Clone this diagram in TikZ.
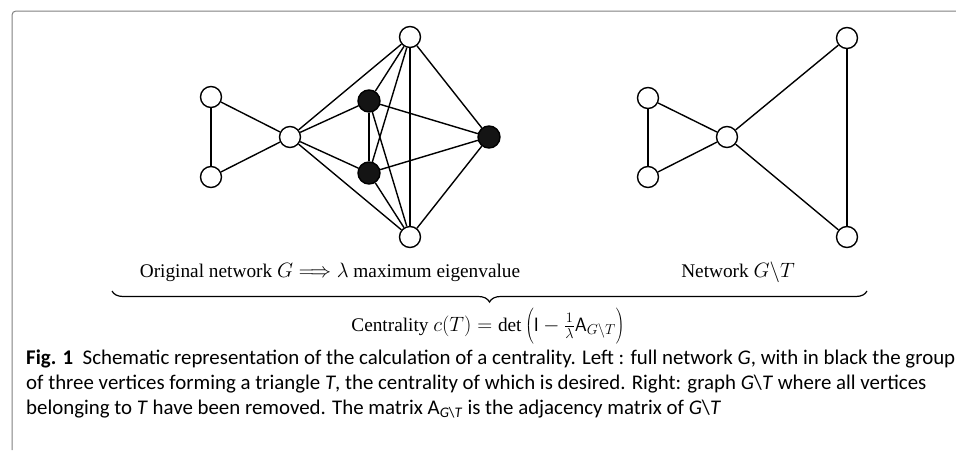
\documentclass[tikz,border=0pt]{standalone}
\usepackage{fontspec}
\setmainfont{Liberation Serif}
\newfontfamily\capfont{Carlito}
\usetikzlibrary{decorations.pathreplacing}
\newsavebox\capbox
\newsavebox\lblbox
\newcommand\capA{\textbf{Fig. 1}\ \ Schematic representation of the calculation of a centrality. Left : full network \textit{G}, with in black the group}
\newcommand\capB{of three vertices forming a triangle \textit{T}, the centrality of which is desired. Right: graph \textit{G}\textbackslash\textit{T} where all vertices}
\newcommand\capC{belonging to \textit{T} have been removed. The matrix A\textsubscript{\textit{G}\textbackslash\textit{T}} is the adjacency matrix of \textit{G}\textbackslash\textit{T}}
\newcommand\origtext{Original network $G \Longrightarrow \lambda$ maximum eigenvalue}
\AtBeginDocument{%
  \sbox\capbox{\capfont\fontsize{10}{12}\selectfont\capA}%
  \sbox\lblbox{\fontsize{10}{12}\selectfont\origtext}%
  \pgfmathsetmacro\capsz{10*929/\the\wd\capbox}%
  \pgfmathsetmacro\lblsz{10*377/\the\wd\lblbox}%
  \xdef\capsz{\capsz}\xdef\lblsz{\lblsz}}
\begin{document}
\begin{tikzpicture}[x=1pt,y=-1pt,
  wv/.style={circle,draw,fill=white,line width=1.4pt,minimum size=21pt,inner sep=0pt},
  bv/.style={circle,draw,fill=black!92,line width=1.4pt,minimum size=22pt,inner sep=0pt},
  edge/.style={line width=1.4pt},
  frameline/.style={draw=black!50,line width=1pt,rounded corners=4pt},
  lbl/.style={font=\fontsize{\lblsz}{\lblsz}\selectfont,inner sep=0pt,anchor=base},
  captext/.style={font=\capfont\fontsize{\capsz}{\capsz}\selectfont,inner sep=0pt,anchor=base west}]
\useasboundingbox (0,0) rectangle (956,450);
\coordinate (f1) at (12,450);
\coordinate (f2) at (12,11);
\coordinate (f3) at (956,11);
\draw[frameline] (f1) -- (f2) -- (f3);
% left graph
\node[wv] (a1) at (211,97) {};
\node[wv] (a2) at (211,177) {};
\node[wv] (h) at (290,137) {};
\node[wv] (t) at (410,37) {};
\node[wv] (b) at (410,237) {};
\node[bv] (bu) at (369,101) {};
\node[bv] (bl) at (369,173) {};
\node[bv] (br) at (489,137) {};
\draw[edge] (a1) -- (a2);
\draw[edge] (a1) -- (h);
\draw[edge] (a2) -- (h);
\draw[edge] (h) -- (t);
\draw[edge] (h) -- (bu);
\draw[edge] (h) -- (bl);
\draw[edge] (h) -- (b);
\draw[edge] (t) -- (bu);
\draw[edge] (t) -- (bl);
\draw[edge] (t) -- (b);
\draw[edge] (t) -- (br);
\draw[edge] (bu) -- (bl);
\draw[edge] (bu) -- (br);
\draw[edge] (bu) -- (b);
\draw[edge] (bl) -- (br);
\draw[edge] (bl) -- (b);
\draw[edge] (br) -- (b);
% right graph
\node[wv] (c1) at (648,98) {};
\node[wv] (c2) at (648,177) {};
\node[wv] (ch) at (727,137) {};
\node[wv] (ct) at (847,38) {};
\node[wv] (cb) at (847,237) {};
\draw[edge] (c1) -- (c2);
\draw[edge] (c1) -- (ch);
\draw[edge] (c2) -- (ch);
\draw[edge] (ch) -- (ct);
\draw[edge] (ch) -- (cb);
\draw[edge] (ct) -- (cb);
% labels
\node[lbl] (orig) at (330,277) {\origtext};
\node[lbl] (net) at (738,277) {Network $G\backslash T$};
\coordinate (brR) at (867,291);
\coordinate (brL) at (112,291);
\draw[decorate,decoration={brace,amplitude=11pt},line width=1.2pt] (brR) -- (brL);
\node[lbl] (cent) at (488,331) {Centrality $c(T)=\det\left(\rule[-0.65em]{0pt}{1.85em}\mathsf{I}-\frac{1}{\lambda}\mathsf{A}_{G\backslash T}\right)$};
% caption
\node[captext] (cap1) at (26,364) {\capA};
\node[captext] (cap2) at (26,389) {\capB};
\node[captext] (cap3) at (26,414) {\capC};
\end{tikzpicture}
\end{document}
